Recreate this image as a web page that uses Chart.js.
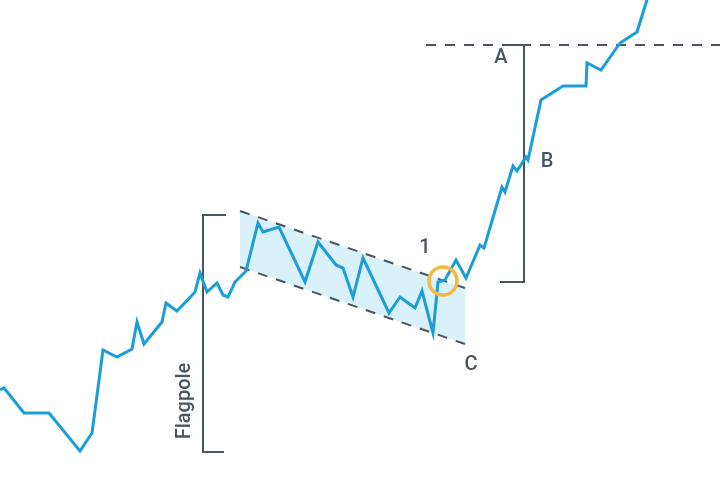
<!DOCTYPE html>
<html>
<head>
<meta charset="utf-8">
<title>Bull flag</title>
<script src="https://cdn.jsdelivr.net/npm/chart.js@4/dist/chart.umd.min.js"></script>
<style>
    html, body { margin: 0; padding: 0; background: #fff; }
    #wrap { width: 720px; height: 480px; }
</style>
</head>
<body>
<div id="wrap"><canvas id="flagChart"></canvas></div>
<script>
// price path (time, price)
var priceX = [0, 4, 24, 49, 80, 92, 103, 117, 132, 137, 144, 162, 166, 177, 195, 200, 207, 217, 223, 228,
    235, 246, 258, 263, 279, 305, 318, 336, 343, 353, 363, 389, 400, 415, 422, 433, 438, 445, 456, 466,
    480, 484, 502, 505, 513, 517, 526, 528, 541, 563, 586, 587, 601, 620, 637, 655];
var priceY = [90, 92, 67, 67, 29, 47, 130, 123, 131, 158, 136, 158, 177, 169, 188, 207, 188, 197, 185, 183,
    198, 209, 257, 248, 253, 198, 238, 215, 212, 183, 222, 167, 183, 172, 189, 147, 198, 200, 220, 202,
    235, 232, 293, 288, 314, 309, 323, 320, 380, 394, 394, 417, 410, 437, 448, 506];

// flag channel
var channelX = [240, 465];
var channelTop = [269, 192];
var channelBottom = [213, 136];

// target level A
var targetX = [426, 720];
var targetY = [435, 435];

// brackets
var poleX = [226, 203, 203, 224];
var poleY = [265, 265, 28, 28];
var moveX = [503, 524, 524, 500];
var moveY = [435, 435, 198, 198];

// breakout marker
var breakoutX = [443];
var breakoutY = [199];

// labels
var labelText = ['A', 'B', 'C', '1'];
var labelX = [501, 547, 471, 425];
var labelY = [422, 318, 115, 232];
var poleLabel = 'Flagpole';
var poleLabelX = 185;
var poleLabelY = 79;

var INK = '#4a5562';
var BLUE = '#1a9dd8';

function pts(xs, ys) {
    return xs.map(function(x, i) { return { x: x, y: ys[i] }; });
}

var labelPlugin = {
    id: 'flagLabels',
    afterDatasetsDraw: function(chart) {
        var ctx = chart.ctx;
        var sx = chart.scales.x, sy = chart.scales.y;
        ctx.save();
        ctx.fillStyle = INK;
        ctx.font = '500 20px Roboto, "Noto Sans", sans-serif';
        ctx.textAlign = 'center';
        ctx.textBaseline = 'middle';
        labelText.forEach(function(t, i) {
            ctx.fillText(t, sx.getPixelForValue(labelX[i]), sy.getPixelForValue(labelY[i]));
        });
        ctx.translate(sx.getPixelForValue(poleLabelX), sy.getPixelForValue(poleLabelY));
        ctx.rotate(-Math.PI / 2);
        ctx.fillText(poleLabel, 0, 0);
        ctx.restore();
    }
};

function initChart() {
    var canvas = document.getElementById('flagChart');
    new Chart(canvas, {
        type: 'scatter',
        data: {
            datasets: [{
                data: pts(breakoutX, breakoutY),
                pointRadius: 14,
                pointBorderWidth: 3.5,
                pointBorderColor: '#f5b840',
                pointBackgroundColor: 'rgba(0,0,0,0)',
                showLine: false,
                order: 0
            }, {
                data: pts(priceX, priceY),
                showLine: true,
                borderColor: BLUE,
                borderWidth: 3,
                pointRadius: 0,
                order: 1
            }, {
                data: pts(channelX, channelTop),
                showLine: true,
                borderColor: INK,
                borderWidth: 2,
                borderDash: [10, 9],
                pointRadius: 0,
                fill: '+1',
                backgroundColor: '#d9f1fb',
                order: 4
            }, {
                data: pts(channelX, channelBottom),
                showLine: true,
                borderColor: INK,
                borderWidth: 2,
                borderDash: [10, 9],
                pointRadius: 0,
                order: 2
            }, {
                data: pts(targetX, targetY),
                showLine: true,
                borderColor: INK,
                borderWidth: 2,
                borderDash: [10, 9],
                pointRadius: 0,
                order: 3
            }, {
                data: pts(poleX, poleY),
                showLine: true,
                borderColor: INK,
                borderWidth: 2,
                pointRadius: 0,
                order: 3
            }, {
                data: pts(moveX, moveY),
                showLine: true,
                borderColor: INK,
                borderWidth: 2,
                pointRadius: 0,
                order: 3
            }]
        },
        options: {
            responsive: true,
            maintainAspectRatio: false,
            animation: false,
            layout: { padding: 0, autoPadding: false },
            plugins: { legend: { display: false }, tooltip: { enabled: false } },
            scales: {
                x: { type: 'linear', min: 0, max: 720, display: false },
                y: { type: 'linear', min: 0, max: 480, display: false }
            }
        },
        plugins: [labelPlugin]
    });
}

if (document.readyState === 'loading') {
    document.addEventListener('DOMContentLoaded', initChart);
} else {
    initChart();
}
</script>
</body>
</html>
